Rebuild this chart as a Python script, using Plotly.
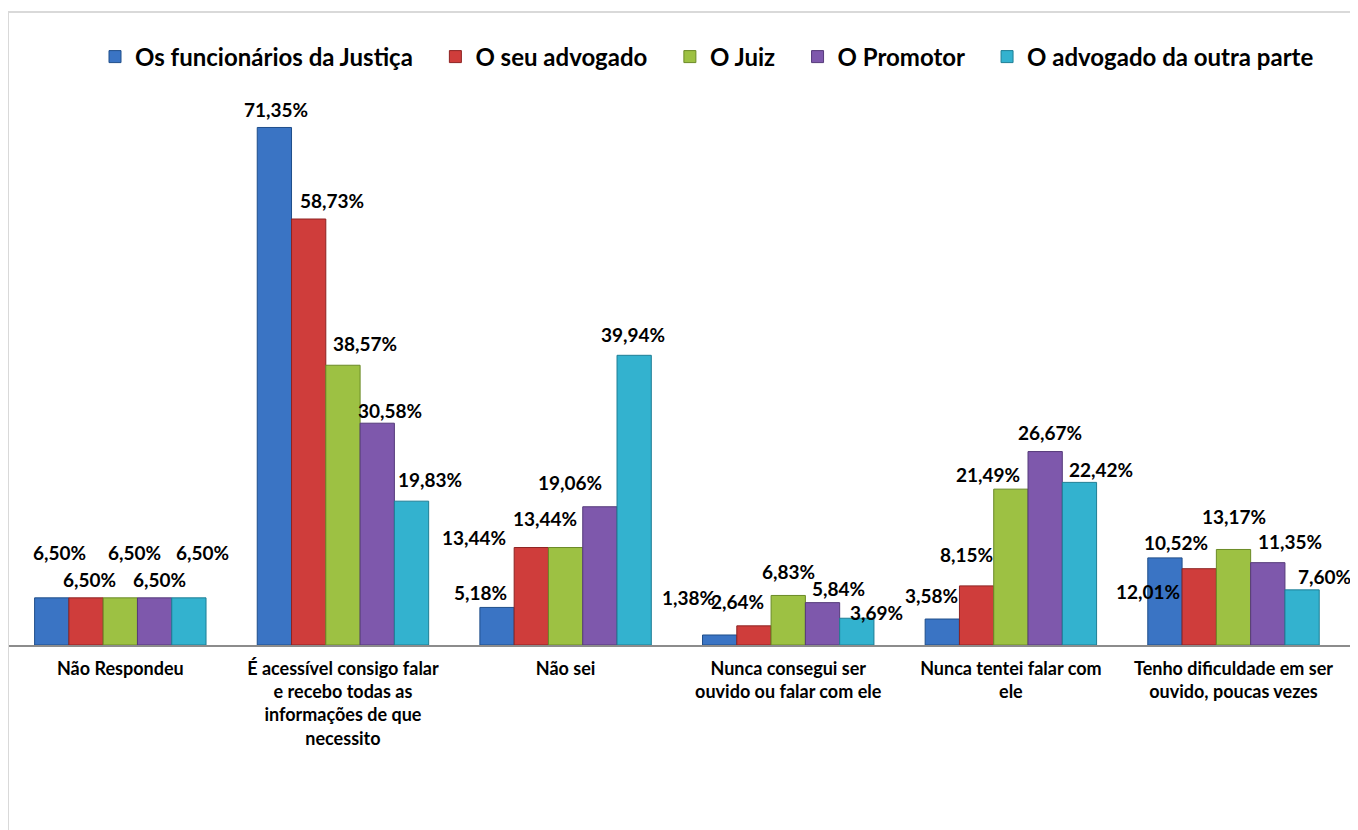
import plotly.graph_objects as go

categories = [
    "Não Respondeu",
    "É acessível consigo falar<br>e recebo todas as<br>informações de que<br>necessito",
    "Não sei",
    "Nunca consegui ser<br>ouvido ou falar com ele",
    "Nunca tentei falar com<br>ele",
    "Tenho dificuldade em ser<br>ouvido, poucas vezes",
]
series_names = [
    "Os funcionários da Justiça",
    "O seu advogado",
    "O Juiz",
    "O Promotor",
    "O advogado da outra parte",
]
funcionarios = [6.50, 71.35, 5.18, 1.38, 3.58, 12.01]
seu_advogado = [6.50, 58.73, 13.44, 2.64, 8.15, 10.52]
juiz = [6.50, 38.57, 13.44, 6.83, 21.49, 13.17]
promotor = [6.50, 30.58, 19.06, 5.84, 26.67, 11.35]
advogado_outra = [6.50, 19.83, 39.94, 3.69, 22.42, 7.60]
values = [funcionarios, seu_advogado, juiz, promotor, advogado_outra]

colors = ["#3A74C4", "#CF3D3B", "#9DC143", "#7E58AC", "#33B2CF"]
edge = ["#1F4E8A", "#8E2322", "#6A8A26", "#553A7A", "#1E7E95"]

# label offsets (pixels) relative to bar top centre: (dx, dy up)
label_dx = [
    [8, 2, -16, -31, -10, -17],
    [4, 24, -57, -16, -10, -23],
    [14, 22, -21, 0, -23, 0],
    [5, 13, -30, 16, 5, 22],
    [13, 18, -2, 19, 21, 22],
]
label_dy = [
    [45, 18, 15, 37, 24, -34],
    [18, 19, 10, 24, 31, 26],
    [45, 22, 29, 24, 15, 33],
    [18, 13, 24, 14, 19, 21],
    [45, 22, 21, 6, 13, 13],
]

# page body has an 8px margin
W, H = 1350, 822
ML, MR, MT, MB = 1, 5, 93, 185
plot_w = W - ML - MR
plot_h = H - MT - MB
ymax = 75
bargap = 0.23
cat_w = plot_w / len(categories)
bar_w = cat_w * (1 - bargap) / len(series_names)

FONT = "Lato"
NB = "\u00a0"

fig = go.Figure()
for i, (name, vals) in enumerate(zip(series_names, values)):
    legend_name = name + (NB * 3 if i < len(series_names) - 1 else "")
    fig.add_trace(go.Bar(
        name=legend_name, x=categories, y=vals,
        marker=dict(color=colors[i], line=dict(color=edge[i], width=1)),
        hovertemplate=name + ": %{y:.2f}%<extra></extra>",
    ))

annotations = []
for i, vals in enumerate(values):
    for j, v in enumerate(vals):
        annotations.append(dict(
            x=categories[j], y=v, xref="x", yref="y",
            text="<b>" + f"{v:.2f}".replace(".", ",") + "%</b>",
            showarrow=False,
            xshift=(i - 2) * bar_w + label_dx[i][j],
            yshift=label_dy[i][j],
            font=dict(family=FONT, size=19, color="#000000"),
            xanchor="center", yanchor="middle",
        ))

fig.update_layout(
    width=W, height=H,
    margin=dict(l=ML, r=MR, t=MT, b=MB),
    paper_bgcolor="white", plot_bgcolor="white",
    barmode="group", bargap=bargap, bargroupgap=0,
    font=dict(family=FONT, color="#000000"),
    legend=dict(
        orientation="h", x=(707 - 8 - ML) / plot_w, xanchor="center",
        y=1 + 44 / plot_h, yanchor="middle",
        font=dict(family=FONT, size=24, color="#000000", weight="bold"),
        itemwidth=30, traceorder="normal",
    ),
    xaxis=dict(
        showline=True, linecolor="#8C8C8C", linewidth=2,
        ticks="", showgrid=False, zeroline=False,
        tickfont=dict(family=FONT, size=18, color="#000000", weight="bold"),
        ticklabelstandoff=6,
    ),
    yaxis=dict(visible=False, range=[0, ymax], showgrid=False, zeroline=False),
    annotations=annotations,
    shapes=[dict(
        type="rect", xref="paper", yref="paper",
        x0=(0 - ML) / plot_w, x1=1.02,
        y0=-(H + 20 - (MT + plot_h)) / plot_h, y1=(MT + plot_h - 4) / plot_h,
        line=dict(color="#D9D9D9", width=2), fillcolor="rgba(0,0,0,0)",
        layer="below",
    )],
)

fig.write_html("out.html")
